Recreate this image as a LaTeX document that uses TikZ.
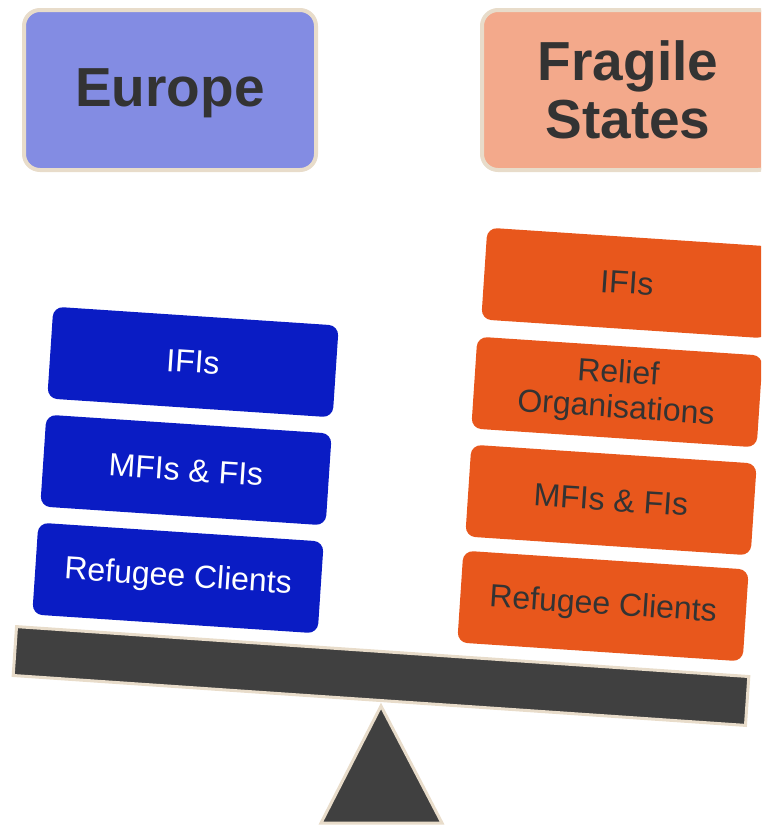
\documentclass[tikz,border=0pt]{standalone}
\usepackage{fontspec}
\setmainfont{Liberation Sans}
\definecolor{eulight}{RGB}{131,140,227}
\definecolor{fslight}{RGB}{243,169,139}
\definecolor{eublue}{RGB}{10,28,196}
\definecolor{fsorange}{RGB}{232,87,28}
\definecolor{beamgray}{RGB}{64,64,64}
\definecolor{rim}{RGB}{232,220,202}
\definecolor{textdark}{RGB}{51,51,51}
\begin{document}
\begin{tikzpicture}[x=1pt,y=-1pt,
  head/.style={draw=rim,line width=4pt,rounded corners=16pt,minimum width=292pt,minimum height=160pt,
    align=center,text=textdark,font=\fontsize{55}{58}\selectfont\bfseries},
  blk/.style={rounded corners=10pt,minimum width=286pt,minimum height=92pt,rotate=-3.8,
    align=center,font=\fontsize{32}{35}\selectfont},
  eu/.style={blk,fill=eublue,text=white},
  fs/.style={blk,fill=fsorange,text=textdark}]
\useasboundingbox (0,0) rectangle (761,825);
\clip (0,0) rectangle (761,825);
% headers
\node[head,fill=eulight,text depth=4pt] (europe) at (170,90) {Europe};
\node[head,fill=fslight] (fragile) at (628,90) {Fragile\\States};
% europe stack
\node[eu] (euifi) at (193,362) {IFIs};
\node[eu] (eumfi) at (186,470) {MFIs \& FIs};
\node[eu] (euref) at (178,578) {Refugee Clients};
% fragile states stack
\node[fs] (fsifi) at (627,283) {IFIs};
\node[fs] (fsrel) at (617,392) {Relief\\Organisations};
\node[fs] (fsmfi) at (611,500) {MFIs \& FIs};
\node[fs] (fsref) at (603,606) {Refugee Clients};
% seesaw
\draw[fill=beamgray,draw=rim,line width=3pt] (381,706)--(442,823)--(321,823)--cycle;
\node[fill=beamgray,draw=rim,line width=3pt,minimum width=734pt,minimum height=49pt,rotate=-3.9] (beam) at (381,676) {};
\end{tikzpicture}
\end{document}
